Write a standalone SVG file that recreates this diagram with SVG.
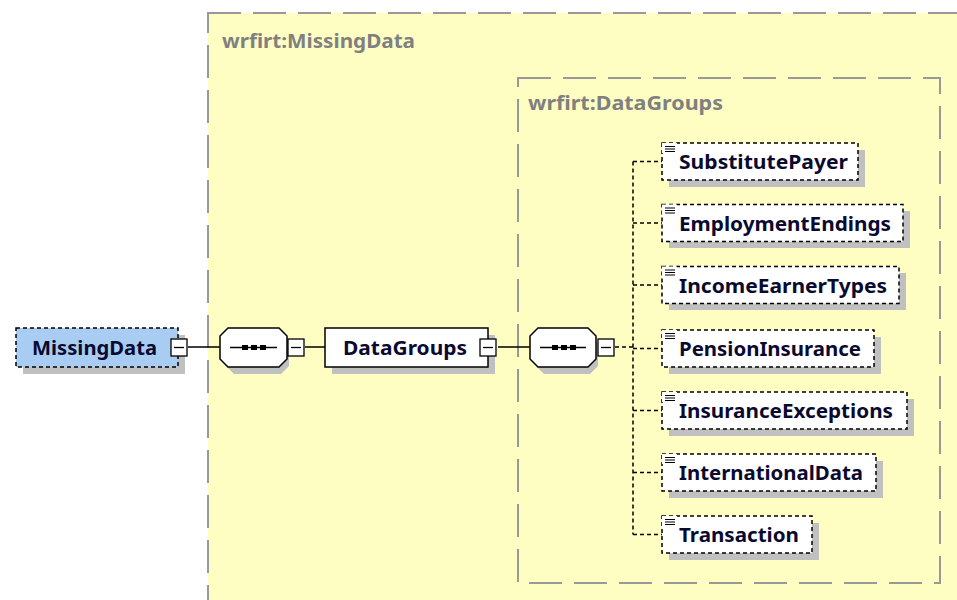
<svg xmlns="http://www.w3.org/2000/svg" width="957" height="600" viewBox="0 0 957 600">
<style>
.grp{fill:#fffec2;stroke:#999;stroke-width:2;stroke-dasharray:33 12}
.gtitle{font-family:"Noto Sans","Liberation Sans",sans-serif;font-weight:bold;font-size:19px;fill:#808080}
.lbl{font-family:"Noto Sans","Liberation Sans",sans-serif;font-weight:bold;font-size:19.5px;fill:#0a0a30}
.shadow{fill:#c0c0c0}
.opt{fill:#fff;stroke:#000;stroke-width:1.5;stroke-dasharray:4 3}
.root{fill:#a9cdf2;stroke:#000;stroke-width:1.5;stroke-dasharray:4 3}
.solid{fill:#fff;stroke:#000;stroke-width:1.5}
.btn{fill:#fff;stroke:#000;stroke-width:1.3}
.wire{stroke:#000;stroke-width:1.3;fill:none}
.dwire{stroke:#000;stroke-width:1.5;fill:none;stroke-dasharray:4 3}
</style>
<defs>
<g id="icon"><rect x="-2" y="-2" width="15" height="10" fill="#fff"/><path d="M1 1.5h10M1 4h10M1 6.5h10" stroke="#000" stroke-width="1.2"/></g>
</defs>
<rect width="957" height="600" fill="#fff"/>
<g id="group-MissingData">
<rect class="grp" x="208" y="13" width="800" height="650"/>
<text class="gtitle" x="222" y="48" textLength="193" lengthAdjust="spacingAndGlyphs">wrfirt:MissingData</text>
</g>
<g id="group-DataGroups">
<rect class="grp" x="518" y="78" width="422" height="505"/>
<text class="gtitle" x="528" y="110" textLength="195" lengthAdjust="spacingAndGlyphs">wrfirt:DataGroups</text>
</g>
<g id="connectors">
<path class="wire" d="M188 347H220M305 347H325M498 347H530"/>
<path class="dwire" d="M615 347H633M633 161.5V534.5M633 161.5H662M633 223H662M633 285H662M633 348.5H662M633 410.5H662M633 472.5H662M633 534.5H662"/>
</g>
<g id="MissingData">
<rect class="shadow" x="23" y="335" width="162" height="39"/>
<rect class="root" x="16" y="328" width="162" height="39"/>
<text class="lbl" x="32" y="355" textLength="125" lengthAdjust="spacingAndGlyphs">MissingData</text>
<rect class="btn" x="171" y="339" width="16" height="17"/>
<path d="M174 347.5h10" stroke="#000" stroke-width="1.3"/>
</g>
<g id="seq1">
<path class="shadow" d="M234 335h47l8 8v23l-8 8h-47l-8-8v-23z"/>
<path class="solid" d="M228 328h51l8 8v23l-8 8h-51l-8-8v-23z"/>
<path d="M230 347.5h47" stroke="#000" stroke-width="1.3"/>
<rect x="242" y="345" width="6" height="5" fill="#000"/><rect x="251" y="345" width="6" height="5" fill="#000"/><rect x="260" y="345" width="6" height="5" fill="#000"/>
<rect class="btn" x="288" y="339" width="16" height="17"/>
<path d="M291 347.5h10" stroke="#000" stroke-width="1.3"/>
</g>
<g id="DataGroups">
<rect class="shadow" x="332" y="335" width="163" height="39"/>
<rect class="solid" x="325" y="328" width="163" height="39"/>
<text class="lbl" x="343" y="355" textLength="124" lengthAdjust="spacingAndGlyphs">DataGroups</text>
<rect class="btn" x="480" y="339" width="16" height="17"/>
<path d="M483 347.5h10" stroke="#000" stroke-width="1.3"/>
</g>
<g id="seq2">
<path class="shadow" d="M544 335h46l8 8v23l-8 8h-46l-8-8v-23z"/>
<path class="solid" d="M538 328h50l8 8v23l-8 8h-50l-8-8v-23z"/>
<path d="M540 347.5h46" stroke="#000" stroke-width="1.3"/>
<rect x="552" y="345" width="6" height="5" fill="#000"/><rect x="561" y="345" width="6" height="5" fill="#000"/><rect x="570" y="345" width="6" height="5" fill="#000"/>
<rect class="btn" x="598" y="339" width="16" height="17"/>
<path d="M601 347.5h10" stroke="#000" stroke-width="1.3"/>
</g>
<g id="SubstitutePayer">
<rect class="shadow" x="669" y="150" width="196" height="37"/>
<rect class="opt" x="662" y="143" width="196" height="37"/>
<use href="#icon" x="664" y="145"/>
<text class="lbl" x="679" y="169" textLength="169" lengthAdjust="spacingAndGlyphs">SubstitutePayer</text>
</g>
<g id="EmploymentEndings">
<rect class="shadow" x="669" y="211" width="241" height="37"/>
<rect class="opt" x="662" y="204.5" width="241" height="37"/>
<use href="#icon" x="664" y="206.5"/>
<text class="lbl" x="679" y="230.5" textLength="212" lengthAdjust="spacingAndGlyphs">EmploymentEndings</text>
</g>
<g id="IncomeEarnerTypes">
<rect class="shadow" x="669" y="273" width="237" height="37"/>
<rect class="opt" x="662" y="266.5" width="237" height="37"/>
<use href="#icon" x="664" y="268.5"/>
<text class="lbl" x="679" y="292.5" textLength="208" lengthAdjust="spacingAndGlyphs">IncomeEarnerTypes</text>
</g>
<g id="PensionInsurance">
<rect class="shadow" x="669" y="337" width="212" height="37"/>
<rect class="opt" x="662" y="330" width="212" height="37"/>
<use href="#icon" x="664" y="332"/>
<text class="lbl" x="679" y="356" textLength="182" lengthAdjust="spacingAndGlyphs">PensionInsurance</text>
</g>
<g id="InsuranceExceptions">
<rect class="shadow" x="669" y="399" width="245" height="37"/>
<rect class="opt" x="662" y="392" width="245" height="37"/>
<use href="#icon" x="664" y="394"/>
<text class="lbl" x="679" y="418" textLength="214" lengthAdjust="spacingAndGlyphs">InsuranceExceptions</text>
</g>
<g id="InternationalData">
<rect class="shadow" x="669" y="461" width="214" height="37"/>
<rect class="opt" x="662" y="454" width="214" height="37"/>
<use href="#icon" x="664" y="456"/>
<text class="lbl" x="679" y="480" textLength="184" lengthAdjust="spacingAndGlyphs">InternationalData</text>
</g>
<g id="Transaction">
<rect class="shadow" x="669" y="523" width="150" height="37"/>
<rect class="opt" x="662" y="516" width="150" height="37"/>
<use href="#icon" x="664" y="518"/>
<text class="lbl" x="679" y="542" textLength="120" lengthAdjust="spacingAndGlyphs">Transaction</text>
</g>
</svg>
